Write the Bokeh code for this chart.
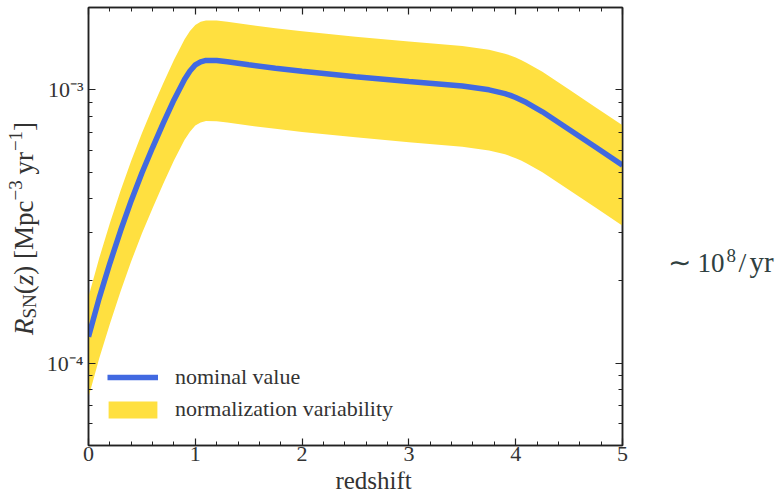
from math import pi

from bokeh.plotting import figure
from bokeh.layouts import row, column
from bokeh.models import (Range1d, LogAxis, LinearAxis, FixedTicker,
                          CustomJSTickFormatter, Label, Legend, LegendItem)
from bokeh.embed import file_html
from bokeh.resources import INLINE

# --- data -----------------------------------------------------------------
redshift = [0.0, 0.1, 0.2, 0.3, 0.4, 0.5, 0.6, 0.7, 0.8, 0.9, 0.95, 1.0,
            1.05, 1.1, 1.2, 1.3, 1.5, 1.75, 2.0, 2.5, 3.0, 3.25, 3.5, 3.75,
            3.9, 3.95, 4.0, 4.05, 4.1, 4.25, 4.5, 4.75, 5.0]

# supernova rate in units of 1e-4 Mpc^-3 yr^-1
rate_nominal_e4 = [1.25, 1.73, 2.32, 3.05, 3.93, 4.96, 6.15, 7.55, 9.18,
                   10.93, 11.72, 12.33, 12.66, 12.81, 12.80, 12.66, 12.34,
                   12.00, 11.69, 11.16, 10.72, 10.52, 10.32, 10.00, 9.68,
                   9.54, 9.37, 9.18, 8.98, 8.31, 7.16, 6.16, 5.30]
rate_low_e4 = [0.75, 1.04, 1.39, 1.83, 2.36, 2.98, 3.69, 4.53, 5.51, 6.56,
               7.03, 7.40, 7.60, 7.69, 7.68, 7.60, 7.40, 7.20, 7.01, 6.70,
               6.43, 6.31, 6.19, 6.00, 5.81, 5.72, 5.62, 5.51, 5.39, 4.99,
               4.30, 3.70, 3.18]
rate_high_e4 = [1.75, 2.42, 3.25, 4.27, 5.50, 6.94, 8.61, 10.57, 12.85,
                15.30, 16.41, 17.26, 17.72, 17.93, 17.92, 17.72, 17.28,
                16.80, 16.37, 15.62, 15.01, 14.73, 14.45, 14.00, 13.55,
                13.36, 13.12, 12.85, 12.57, 11.63, 10.02, 8.62, 7.42]

x_major_ticks = [0, 1, 2, 3, 4, 5]
x_minor_ticks = [0.2, 0.4, 0.6, 0.8, 1.2, 1.4, 1.6, 1.8, 2.2, 2.4, 2.6, 2.8,
                 3.2, 3.4, 3.6, 3.8, 4.2, 4.4, 4.6, 4.8]
y_major_ticks = [1e-4, 1e-3]
y_minor_ticks = [6e-5, 7e-5, 8e-5, 9e-5, 2e-4, 3e-4, 4e-4, 5e-4, 6e-4,
                 7e-4, 8e-4, 9e-4, 2e-3]

rate_nominal = [v * 1e-4 for v in rate_nominal_e4]
rate_low = [v * 1e-4 for v in rate_low_e4]
rate_high = [v * 1e-4 for v in rate_high_e4]

# --- styling ----------------------------------------------------------------
SERIF = "Liberation Serif"
TEXT = "#333333"
NOTE = "#2F4040"
AXIS = "#222222"
BLUE = "#4169E1"
YELLOW = "#FFE040"

# page is split into: y-title strip | (main plot over x-title strip) | note strip
W, H = 782, 492
YT_W = 40                       # y-title strip width
MAIN_W = 590                    # main plot width
NOTE_W = W - YT_W - MAIN_W      # note strip width
MAIN_H = 471                    # main plot height
XT_H = H - MAIN_H               # x-title strip height
FRAME_LEFT, FRAME_TOP, FRAME_BOTTOM = 88, 7, 445

p = figure(width=MAIN_W, height=MAIN_H,
           x_range=Range1d(0, 5), y_range=Range1d(5e-5, 2e-3),
           y_axis_type="log",
           output_backend="svg", toolbar_location=None,
           min_border_left=FRAME_LEFT - YT_W,
           min_border_right=YT_W + MAIN_W - 622,
           min_border_top=FRAME_TOP,
           min_border_bottom=MAIN_H - FRAME_BOTTOM)
p.xgrid.visible = False
p.ygrid.visible = False
p.outline_line_color = AXIS
p.outline_line_width = 1.5
p.background_fill_color = "white"
p.border_fill_color = "white"

sup_js = """
const sup = {"-": "\u207b", "0": "\u2070", "1": "\u00b9", "2": "\u00b2",
             "3": "\u00b3", "4": "\u2074", "5": "\u2075", "6": "\u2076",
             "7": "\u2077", "8": "\u2078", "9": "\u2079"};
const e = Math.round(Math.log10(tick));
return "10" + String(e).split("").map(c => sup[c]).join("");
"""


def style_axis(ax, show_labels):
    ax.axis_line_color = AXIS
    ax.axis_line_width = 1.5
    ax.major_tick_in = 7
    ax.major_tick_out = 0
    ax.minor_tick_in = 4
    ax.minor_tick_out = 0
    ax.major_tick_line_color = AXIS
    ax.minor_tick_line_color = AXIS
    ax.major_tick_line_width = 1.2
    ax.minor_tick_line_width = 1.0
    if show_labels:
        ax.major_label_text_font = SERIF
        ax.major_label_text_font_size = "22px"
        ax.major_label_text_color = TEXT
    else:
        # mirrored axis: ticks only
        ax.formatter = CustomJSTickFormatter(code="return '';")
        ax.major_label_text_font_size = "1px"
        ax.major_label_text_color = None
        ax.major_label_standoff = 0


x_ticker = FixedTicker(ticks=x_major_ticks, minor_ticks=x_minor_ticks)
y_ticker = FixedTicker(ticks=y_major_ticks, minor_ticks=y_minor_ticks)

bottom = p.xaxis[0]
bottom.ticker = x_ticker
style_axis(bottom, True)
bottom.major_label_standoff = 1

left = p.yaxis[0]
left.ticker = y_ticker
left.formatter = CustomJSTickFormatter(code=sup_js)
style_axis(left, True)
left.major_label_standoff = 5

top_axis = LinearAxis(ticker=x_ticker)
style_axis(top_axis, False)
p.add_layout(top_axis, "above")

right_axis = LogAxis(ticker=y_ticker)
style_axis(right_axis, False)
p.add_layout(right_axis, "right")

# --- data layers -------------------------------------------------------------
band = p.varea(x=redshift, y1=rate_low, y2=rate_high, fill_color=YELLOW,
               fill_alpha=1.0)
nominal = p.line(x=redshift, y=rate_nominal, line_color=BLUE, line_width=5.5)

# --- legends -----------------------------------------------------------------
legend_style = dict(border_line_color=None, background_fill_alpha=0.0,
                    padding=0, margin=0, label_text_font=SERIF,
                    label_text_font_size="22px", label_text_color=TEXT,
                    label_text_baseline="middle")

leg_line = Legend(items=[LegendItem(label="nominal value", renderers=[nominal])],
                  location=(107 - FRAME_LEFT, FRAME_BOTTOM - 390),
                  glyph_width=51, glyph_height=22,
                  label_height=22, label_standoff=17, **legend_style)
leg_band = Legend(items=[LegendItem(label="normalization variability",
                                    renderers=[band])],
                  location=(102 - FRAME_LEFT, FRAME_BOTTOM - 422),
                  glyph_width=61, glyph_height=21,
                  label_height=21, label_standoff=12, **legend_style)
p.add_layout(leg_line)
p.add_layout(leg_band)


# --- text strips ---------------------------------------------------------------
def strip(width, height):
    """A bare canvas whose frame fills it; 1 data unit = 1 pixel."""
    s = figure(width=width, height=height,
               x_range=Range1d(0, width), y_range=Range1d(0, height),
               output_backend="svg", toolbar_location=None,
               x_axis_location=None, y_axis_location=None,
               min_border=0, outline_line_color=None)
    s.xgrid.visible = False
    s.ygrid.visible = False
    s.background_fill_color = "white"
    s.border_fill_color = "white"
    return s


# the text box sits a little below its anchor; lift it back onto the baseline
BASELINE_LIFT = 0.36


def put(fig, text, x, y, size, style="normal", vertical=False, align="left",
        color=TEXT):
    lift = BASELINE_LIFT * size
    if vertical:
        x -= lift
    else:
        y += lift
    fig.add_layout(Label(x=x, y=y, text=text,
                         angle=pi / 2 if vertical else 0.0,
                         text_align=align, text_baseline="alphabetic",
                         text_font=SERIF, text_font_size=f"{size}px",
                         text_font_style=style, text_color=color))


# y title, written bottom-to-top piece by piece (page y -> strip y = H - y)
ytitle = strip(YT_W, H)
MAIN, SMALL = 27, 19
pieces = [("R", MAIN, "italic", 0, 16.5),
          ("SN", SMALL, "normal", 3, 24.3),
          ("(", MAIN, "normal", 0, 9.0),
          ("z", MAIN, "italic", 0, 10.5),
          (") [Mpc", MAIN, "normal", 0, 74.2),
          ("\u22123", SMALL, "normal", -11, 26.0),
          ("yr", MAIN, "normal", 0, 23.4),
          ("\u22121", SMALL, "normal", -11, 20.2),
          ("]", MAIN, "normal", 0, 9.0)]
page_y = 334.5
for text, size, style, shift, advance in pieces:
    put(ytitle, text, 33 + shift, H - page_y, size, style=style, vertical=True)
    page_y -= advance

# x title under the main plot
xtitle = strip(MAIN_W, XT_H)
put(xtitle, "redshift", 355 - YT_W, H - 489, 25, align="center")

# side note
note = strip(NOTE_W, H)
nx0 = YT_W + MAIN_W
put(note, "\u223c", 667 - nx0, H - 272, 28, color=NOTE)
put(note, "10", 697 - nx0, H - 272, 27, color=NOTE)
put(note, "8", 726 - nx0, H - 262, 19, color=NOTE)
put(note, "/", 738 - nx0, H - 272, 28, color=NOTE)
put(note, "yr", 749 - nx0, H - 272, 29, color=NOTE)

page = row(ytitle, column(p, xtitle, spacing=0), note, spacing=0)

open("out.html", "w").write(file_html(page, INLINE))
